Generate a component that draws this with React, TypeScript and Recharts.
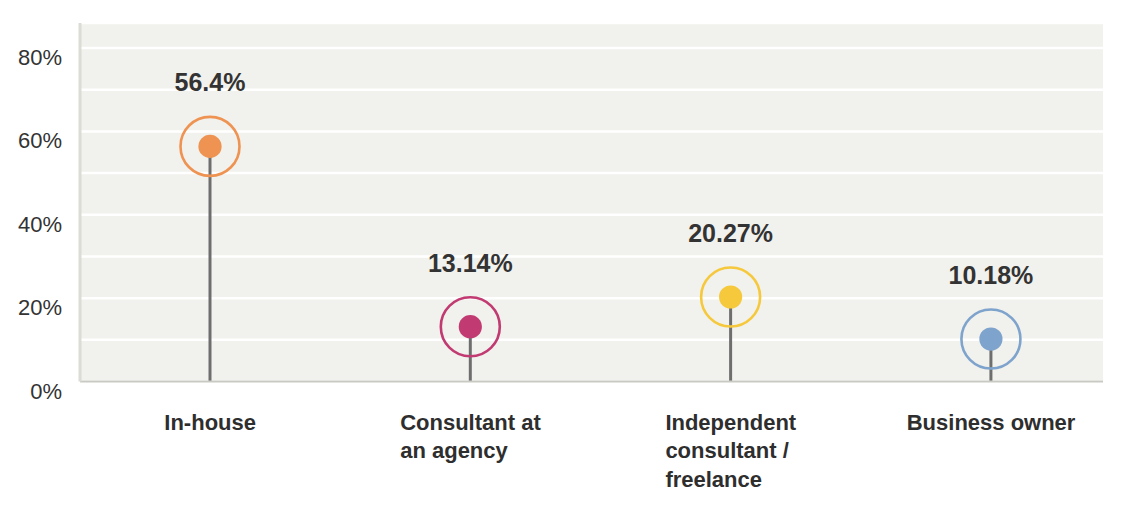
import React from 'react';
import { BarChart, Bar, XAxis, YAxis, CartesianGrid } from 'recharts';

const categories = ['In-house', 'Consultant at an agency', 'Independent consultant / freelance', 'Business owner'];
const categoryLines = [['In-house'], ['Consultant at', 'an agency'], ['Independent', 'consultant /', 'freelance'], ['Business owner']];
const values = [56.4, 13.14, 20.27, 10.18];
const valueLabels = ['56.4%', '13.14%', '20.27%', '10.18%'];
const colors = ['#ee9352', '#c13b72', '#f6c93c', '#7ea3cc'];
const yTicks = [0, 10, 20, 30, 40, 50, 60, 70, 80];
const yLabelTicks = [0, 20, 40, 60, 80];

const data = categories.map((name, i) => ({ idx: i, name, value: values[i], label: valueLabels[i], color: colors[i] }));

const FONT = "'Liberation Sans', Arial, Helvetica, sans-serif";

let ctx: CanvasRenderingContext2D | null = null;
function measure(text: string, font: string): number {
  if (!ctx) {
    const c = document.createElement('canvas');
    ctx = c.getContext('2d');
  }
  if (!ctx) return text.length * 11;
  ctx.font = font;
  return ctx.measureText(text).width;
}

const Lollipop = (props: any) => {
  const { x, y, width, height, index } = props;
  const d = data[index];
  const cx = x + width / 2;
  const cy = y;
  const base = y + height;
  return (
    <g>
      <line x1={cx} y1={cy} x2={cx} y2={base} stroke="#6e6e6e" strokeWidth={3} />
      <circle cx={cx} cy={cy} r={29.5} fill="none" stroke={d.color} strokeWidth={2.6} />
      <circle cx={cx} cy={cy} r={11.6} fill={d.color} />
      <text x={cx} y={cy - 55} textAnchor="middle" fontFamily={FONT} fontWeight="bold" fontSize={25} fill="#333333">
        {d.label}
      </text>
    </g>
  );
};

const YTick = (props: any) => {
  const { x, y, payload } = props;
  if (!yLabelTicks.includes(payload.value)) return null;
  return (
    <text x={x} y={y + 17} textAnchor="end" fontFamily={FONT} fontSize={22} fill="#333333">
      {payload.value}%
    </text>
  );
};

const XTick = (props: any) => {
  const { x, y, payload } = props;
  const lines = categoryLines[payload.value] || [];
  const font = `bold 22px ${FONT}`;
  const w = Math.max(...lines.map((l) => measure(l, font)));
  const left = x - w / 2;
  return (
    <text x={left} y={y + 48} textAnchor="start" fontFamily={FONT} fontWeight="bold" fontSize={22} fill="#2e2e2e">
      {lines.map((l, i) => (
        <tspan key={i} x={left} dy={i === 0 ? 0 : 28.5}>
          {l}
        </tspan>
      ))}
    </text>
  );
};

export default function App() {
  return (
    <div style={{ position: 'absolute', left: 0, top: 0, width: 1134, height: 514, background: '#ffffff' }}>
      <BarChart width={1134} height={514} data={data} margin={{ top: 23, right: 31, bottom: 0, left: 0 }}>
        <CartesianGrid horizontal={true} vertical={false} stroke="#ffffff" strokeWidth={2.5} fill="#f1f1ed" fillOpacity={1} />
        <XAxis
          type="number"
          dataKey="idx"
          domain={[-0.5, 3.43]}
          ticks={[0, 1, 2, 3]}
          tick={<XTick />}
          tickLine={false}
          tickSize={0}
          tickMargin={0}
          height={132.5}
          axisLine={{ stroke: '#c9c9c4', strokeWidth: 2 }}
          allowDataOverflow
        />
        <YAxis
          type="number"
          domain={[0, 86]}
          ticks={yTicks}
          tick={<YTick />}
          tickLine={false}
          tickSize={0}
          tickMargin={18}
          width={80}
          axisLine={{ stroke: '#dcdcd6', strokeWidth: 3 }}
          interval={0}
        />
        <Bar dataKey="value" barSize={20} shape={<Lollipop />} isAnimationActive={false} />
      </BarChart>
    </div>
  );
}
